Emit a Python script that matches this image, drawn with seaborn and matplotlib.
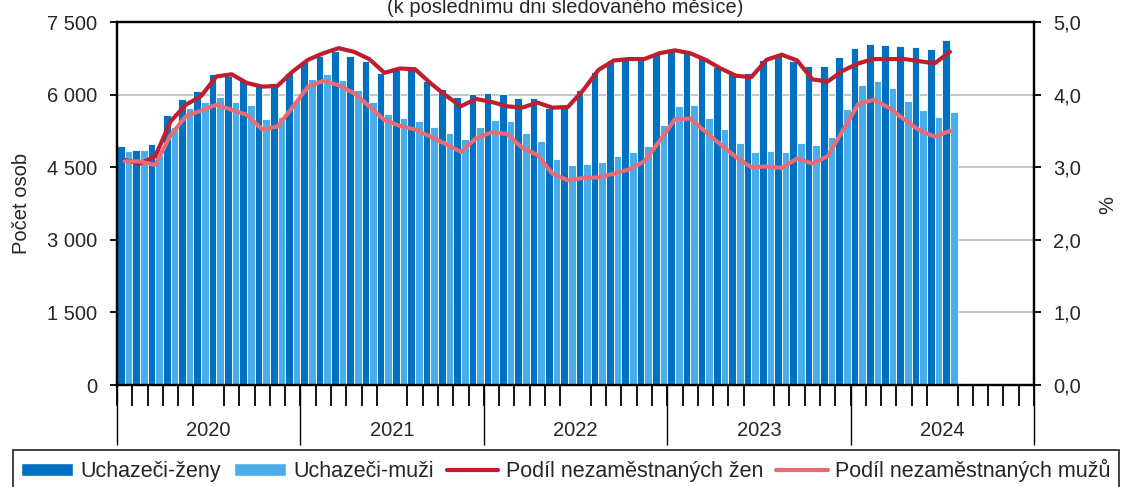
import numpy as np
import matplotlib
matplotlib.use('Agg')
import matplotlib.pyplot as plt
import pandas as pd
import seaborn as sns
from matplotlib.patches import Patch
from matplotlib.lines import Line2D

years = ['2020', '2021', '2022', '2023', '2024']
months = [f'{y}-{m:02d}' for y in years for m in range(1, 13)]

# uchazeci o zamestnani (pocet osob), leden 2020 - cervenec 2024
women = [4944, 4862, 4979, 5578, 5916, 6081, 6426, 6384, 6302, 6219, 6246, 6453,
         6674, 6798, 6907, 6804, 6701, 6453, 6500, 6529, 6288, 6122, 5957, 6019,
         6040, 6012, 5930, 5935, 5716, 5737, 6095, 6473, 6680, 6729, 6729, 6833,
         6920, 6907, 6750, 6577, 6426, 6440, 6715, 6818, 6701, 6598, 6591, 6784,
         6963, 7039, 7019, 7004, 6991, 6942, 7128]
men = [4834, 4855, 4760, 5324, 5730, 5854, 5957, 5854, 5785, 5490, 5544, 5888,
       6316, 6426, 6295, 6095, 5854, 5599, 5510, 5461, 5337, 5213, 5089, 5324,
       5475, 5448, 5200, 5041, 4676, 4538, 4566, 4607, 4731, 4808, 4938, 5378,
       5757, 5785, 5523, 5296, 5006, 4814, 4841, 4814, 4994, 4966, 5124, 5695,
       6198, 6288, 6143, 5874, 5682, 5537, 5647]

# podil nezamestnanych osob (%)
women_rate = [3.10, 3.05, 3.15, 3.63, 3.86, 3.98, 4.25, 4.28, 4.16, 4.11, 4.12, 4.32,
              4.48, 4.57, 4.64, 4.59, 4.49, 4.30, 4.36, 4.35, 4.16, 3.99, 3.84, 3.94,
              3.90, 3.84, 3.82, 3.89, 3.82, 3.83, 4.06, 4.34, 4.47, 4.49, 4.49, 4.57,
              4.61, 4.57, 4.48, 4.36, 4.26, 4.24, 4.48, 4.55, 4.47, 4.21, 4.18, 4.33,
              4.43, 4.49, 4.49, 4.49, 4.46, 4.43, 4.59]
men_rate = [3.08, 3.08, 3.03, 3.44, 3.70, 3.78, 3.86, 3.79, 3.72, 3.52, 3.56, 3.83,
            4.11, 4.19, 4.13, 4.02, 3.84, 3.65, 3.57, 3.52, 3.42, 3.32, 3.21, 3.40,
            3.48, 3.46, 3.27, 3.17, 2.91, 2.82, 2.85, 2.86, 2.91, 2.97, 3.08, 3.36,
            3.66, 3.67, 3.49, 3.31, 3.14, 3.00, 3.01, 2.99, 3.12, 3.05, 3.15, 3.51,
            3.87, 3.93, 3.82, 3.66, 3.51, 3.42, 3.50]

left_ticks = [0, 1500, 3000, 4500, 6000, 7500]
left_labels = ['0', '1 500', '3 000', '4 500', '6 000', '7 500']
right_ticks = [0, 1, 2, 3, 4, 5]
right_labels = ['0,0', '1,0', '2,0', '3,0', '4,0', '5,0']

names = ['Uchazeči-ženy', 'Uchazeči-muži', 'Podíl nezaměstnaných žen', 'Podíl nezaměstnaných mužů']
colors = ['#0070C0', '#4AADE8', '#BE1E2D', '#EA6B73']

n = len(women)
bars = pd.DataFrame({
    'month': months[:n] * 2,
    'count': women + men,
    'series': [names[0]] * n + [names[1]] * n,
})
rates = pd.DataFrame({
    'pos': list(range(n)) * 2,
    'rate': women_rate + men_rate,
    'series': [names[2]] * n + [names[3]] * n,
})

sns.set_style('white')
plt.rcParams['font.family'] = ['Liberation Sans', 'DejaVu Sans']
plt.rcParams['font.size'] = 14.5

fig = plt.figure(figsize=(11.21, 4.87), dpi=100)
ax = fig.add_axes([0.1044, 0.2094, 0.818, 0.7454])

sns.barplot(data=bars, x='month', y='count', hue='series', order=months,
            hue_order=names[:2], palette=colors[:2], saturation=1, width=1.0, gap=0,
            edgecolor='white', linewidth=0.6, legend=False, ax=ax, zorder=2)

ax.set_ylim(0, 7500)
ax.set_xlim(-0.5, len(months) - 0.5)
ax.set_yticks(left_ticks, left_labels)
ax.yaxis.grid(True, color='#BFBFBF', lw=1.3)
ax.set_axisbelow(True)
ax.set_xlabel('')
ax.set_ylabel('')

# x axis: month ticks, year labels, year separators
year_len = 12
ax.set_xticks([i * year_len + 5.5 for i in range(len(years))], years)
ax.set_xticks(np.arange(-0.5, len(months), 1), minor=True)
ax.tick_params(axis='x', which='major', bottom=True, length=0, pad=26)
ax.tick_params(axis='x', which='minor', bottom=True, length=15, width=1.3,
               color='black', direction='out')
ax.tick_params(axis='y', left=True, length=5, width=1.3, color='black', direction='out', pad=9)

sec = ax.secondary_xaxis('bottom')
sec.set_xticks([i * year_len - 0.5 for i in range(len(years) + 1)], [''] * (len(years) + 1))
sec.tick_params(bottom=True, length=43, width=1.0, color='black', direction='out')
sec.spines['bottom'].set_visible(False)

ax2 = ax.twinx()
sns.lineplot(data=rates, x='pos', y='rate', hue='series', hue_order=names[2:],
             palette=colors[2:], lw=3, legend=False, ax=ax2)
ax2.set_ylim(0, 5)
ax2.set_yticks(right_ticks, right_labels)
ax2.set_xlim(-0.5, len(months) - 0.5)
ax2.set_ylabel('')
ax2.set_xlabel('')
ax2.tick_params(axis='y', right=True, length=5, width=1.3, color='black', direction='out', pad=9)

for a in (ax, ax2):
    for s in a.spines.values():
        s.set_color('black')
        s.set_linewidth(1.6)

fig.text(22 / 1121, 1 - 203 / 487, 'Počet osob', rotation=90, ha='center', va='center')
fig.text(1108 / 1121, 1 - 205 / 487, '%', rotation=90, ha='center', va='center')
# the subtitle sits half outside the top edge, as in the source chart
fig.text(0.504, 1 - 13 / 487, '(k poslednímu dni sledovaného měsíce)', ha='center', va='baseline')

handles = [Patch(facecolor=colors[0]), Patch(facecolor=colors[1]),
           Line2D([], [], color=colors[2], lw=3), Line2D([], [], color=colors[3], lw=3)]
leg = fig.legend(handles, names, ncol=4, loc='lower center', bbox_to_anchor=(0.505, -0.03),
                 frameon=True, fancybox=False, edgecolor='black', fontsize=15.5,
                 handlelength=2.4, handleheight=0.5, handletextpad=0.35, columnspacing=0.6,
                 borderpad=0.4)
leg.get_frame().set_linewidth(1.3)

fig.savefig('out.png', dpi=100)
